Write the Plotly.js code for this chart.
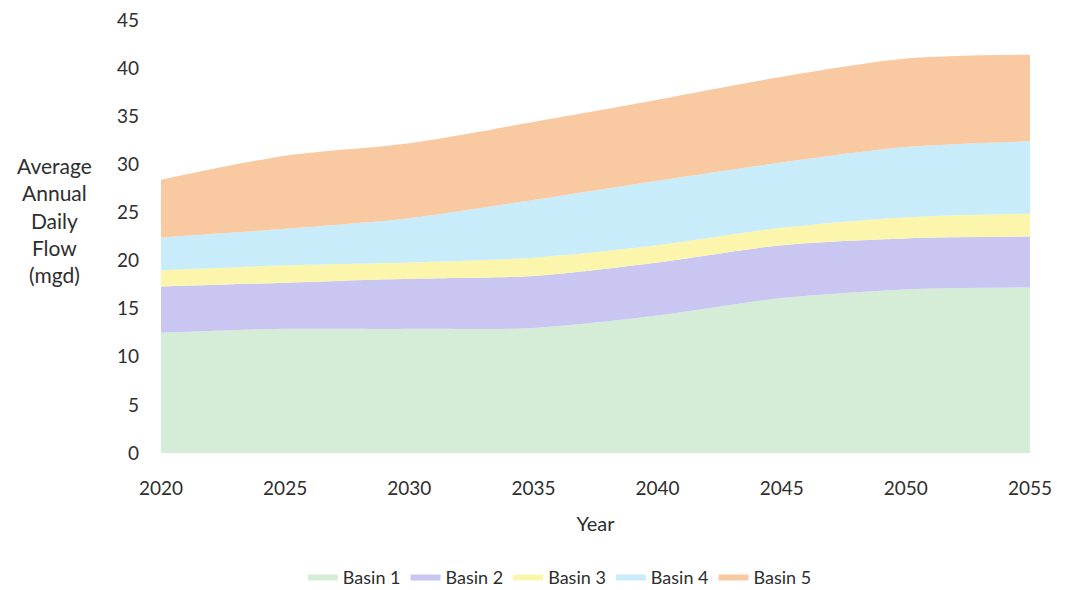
<!DOCTYPE html>
<html>
<head>
<meta charset="utf-8">
<script src="https://cdn.plot.ly/plotly-3.0.1.min.js"></script>
<style>
  html, body { margin: 0; padding: 0; background: #ffffff; }
  #chart { width: 1066px; height: 590px; }
</style>
</head>
<body>
<div id="chart"></div>
<script>
const years = [2020, 2025, 2030, 2035, 2040, 2045, 2050, 2055];
const basin1 = [12.5, 12.9, 12.9, 13.0, 14.3, 16.1, 17.0, 17.2];
const basin2 = [4.8, 4.8, 5.2, 5.4, 5.5, 5.5, 5.3, 5.3];
const basin3 = [1.7, 1.8, 1.7, 1.9, 1.8, 1.8, 2.2, 2.4];
const basin4 = [3.4, 3.8, 4.6, 6.0, 6.7, 6.8, 7.3, 7.5];
const basin5 = [6.0, 7.6, 7.8, 8.1, 8.4, 8.9, 9.2, 9.0];
const seriesNames = ["Basin 1", "Basin 2", "Basin 3", "Basin 4", "Basin 5"];
const yTicks = [0, 5, 10, 15, 20, 25, 30, 35, 40, 45];

const seriesData = [basin1, basin2, basin3, basin4, basin5];
const colors = ["#d5edd7", "#cac6f2", "#fbf6ab", "#c8ecfa", "#f9c9a2"];

const font = "Lato, 'Open Sans', sans-serif";
const textColor = "#2e2e2e";
const traces = seriesData.map((vals, i) => ({
  x: years,
  y: vals,
  name: seriesNames[i],
  type: "scatter",
  mode: "lines",
  stackgroup: "one",
  line: { width: 0, shape: "spline", smoothing: 0.8 },
  fillcolor: colors[i],
  hoverinfo: "x+y+name"
}));

const layout = {
  width: 1066,
  height: 590,
  margin: { l: 161, r: 36, t: 20, b: 137, autoexpand: false },
  paper_bgcolor: "#ffffff",
  plot_bgcolor: "#ffffff",
  font: { family: font, size: 18, color: textColor },
  showlegend: true,
  legend: {
    orientation: "h",
    x: 0.459, xanchor: "center",
    y: -0.286, yanchor: "middle",
    font: { family: font, size: 18, color: textColor },
    itemwidth: 30,
    traceorder: "normal"
  },
  xaxis: {
    range: [2020, 2055],
    tickmode: "array",
    tickvals: years,
    ticktext: years.map(String),
    showgrid: false,
    zeroline: false,
    showline: false,
    ticks: "",
    ticklabelstandoff: 22,
    tickfont: { family: font, size: 19, color: textColor },
    title: { text: "Year", font: { family: font, size: 20, color: textColor }, standoff: 18 }
  },
  yaxis: {
    range: [0, 45],
    tickmode: "array",
    tickvals: yTicks,
    ticktext: yTicks.map(String),
    showgrid: false,
    zeroline: false,
    showline: false,
    ticks: "",
    ticklabelstandoff: 21,
    tickfont: { family: font, size: 19, color: textColor }
  },
  annotations: [{
    text: "Average<br>Annual<br>Daily<br>Flow<br>(mgd)",
    xref: "paper", yref: "paper",
    x: -0.123, y: 0.538,
    xanchor: "center", yanchor: "middle",
    showarrow: false,
    align: "center",
    font: { family: font, size: 21, color: textColor }
  }]
};

Plotly.newPlot("chart", traces, layout, { displayModeBar: false, staticPlot: true });
</script>
</body>
</html>
